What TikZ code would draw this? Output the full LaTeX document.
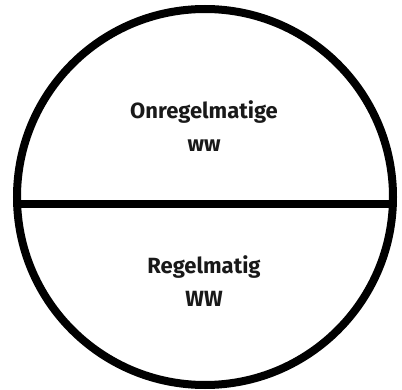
\documentclass[tikz,border=0pt]{standalone}
\usepackage{fontspec}
\setmainfont{Fira Sans}
\usepackage{tikz}
\usetikzlibrary{positioning,calc}

\begin{document}
\begin{tikzpicture}[x=1pt,y=1pt,
    rim/.style={line width=8pt},
    halflabel/.style={align=center,font=\fontsize{22}{33}\selectfont\bfseries,text=black!90}]
    \useasboundingbox (0,0) rectangle (402,389);

    % Outer circle
    \coordinate (mid) at (205,192);
    \draw[rim] (mid) circle (188);

    % Dividing line
    \coordinate (west) at ($(mid)+(-188,-7)$);
    \coordinate (east) at ($(mid)+(188,-7)$);
    \draw[rim] (west) -- (east);

    % Labels
    \node[halflabel] (irregular) at (204,263) {Onregelmatige\\ww};
    \node[halflabel] (regular) at (204,108) {Regelmatig\\WW};
\end{tikzpicture}
\end{document}
